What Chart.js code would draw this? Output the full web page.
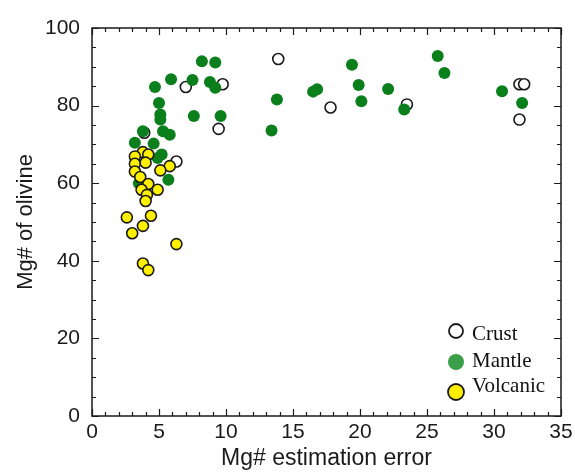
<!DOCTYPE html>
<html>
<head>
<meta charset="utf-8">
<title>Mg# of olivine vs estimation error</title>
<script src="https://cdn.jsdelivr.net/npm/chart.js@4.4.1/dist/chart.umd.min.js"></script>
<style>
    html, body { margin: 0; padding: 0; background: #fff; }
    #wrap { width: 575px; height: 472px; }
</style>
</head>
<body>
<div id="wrap"><canvas id="chart" width="575" height="472"></canvas></div>
<script>
// Crust samples (open circles)
const crustX = [13.9, 7.0, 9.75, 9.45, 6.3, 3.9, 17.8, 23.5, 31.9, 32.25, 31.9];
const crustY = [92.0, 84.8, 85.5, 74.0, 65.6, 73.0, 79.5, 80.3, 85.5, 85.5, 76.4];

// Mantle samples (green)
const mantleX = [8.2, 9.2, 5.9, 4.7, 7.5, 8.8, 9.2, 5.0, 5.1, 5.1, 7.6, 9.6, 5.3, 5.8,
    3.8, 3.2, 4.6, 5.2, 4.9, 5.7, 3.5,
    13.8, 13.4, 16.5, 16.8, 19.4, 19.9, 20.1, 22.1, 23.3, 25.8, 26.3, 30.6, 32.1];
const mantleY = [91.4, 91.1, 86.8, 84.8, 86.6, 86.1, 84.6, 80.7, 77.7, 76.4, 77.3, 77.3, 73.4, 72.5,
    73.4, 70.4, 70.2, 67.4, 66.5, 60.9, 60.0,
    81.6, 73.6, 83.6, 84.2, 90.5, 85.3, 81.1, 84.3, 79.0, 92.8, 88.4, 83.7, 80.7];

// Volcanic samples (yellow)
const volcanicX = [3.8, 3.2, 4.2, 3.2, 4.0, 5.8, 5.1, 3.2, 3.6, 4.2, 3.7, 4.9, 4.1, 4.0,
    2.6, 4.4, 3.8, 3.0, 6.3, 3.8, 4.2];
const volcanicY = [68.0, 66.9, 67.4, 65.0, 65.3, 64.4, 63.3, 63.0, 61.6, 59.8, 58.3, 58.3, 57.0, 55.4,
    51.2, 51.6, 49.0, 47.1, 44.3, 39.3, 37.6];

// Axis settings
const xMin = 0, xMax = 35, xStep = 5, xMinorStep = 1;
const yMin = 0, yMax = 100, yStep = 20, yMinorStep = 5;

// Legend entries
const legendLabels = ['Crust', 'Mantle', 'Volcanic'];

const GREEN = '#0a7f1c';
const YELLOW = '#fff000';
const INK = '#1a1a1a';

function toPoints(xs, ys) {
    return xs.map((x, i) => ({ x: x, y: ys[i] }));
}

// Box frame with inward ticks on all four sides
const framePlugin = {
    id: 'frame',
    afterDraw(chart) {
        const { ctx, chartArea: a, scales } = chart;
        const xs = scales.x, ys = scales.y;
        ctx.save();
        ctx.strokeStyle = INK;
        ctx.lineWidth = 1.5;
        ctx.strokeRect(a.left, a.top, a.right - a.left, a.bottom - a.top);
        ctx.lineWidth = 1.2;
        ctx.beginPath();
        for (let v = xMin; v <= xMax; v += xMinorStep) {
            const px = Math.round(xs.getPixelForValue(v)) + 0.5;
            const len = v % xStep === 0 ? 7 : 4;
            ctx.moveTo(px, a.bottom); ctx.lineTo(px, a.bottom - len);
            ctx.moveTo(px, a.top); ctx.lineTo(px, a.top + len);
        }
        for (let v = yMin; v <= yMax; v += yMinorStep) {
            const py = Math.round(ys.getPixelForValue(v)) + 0.5;
            const len = v % yStep === 0 ? 7 : 4;
            ctx.moveTo(a.left, py); ctx.lineTo(a.left + len, py);
            ctx.moveTo(a.right, py); ctx.lineTo(a.right - len, py);
        }
        ctx.stroke();
        ctx.restore();
    }
};

// Legend drawn inside the plot, bottom right
const legendPlugin = {
    id: 'innerLegend',
    afterDraw(chart) {
        const ctx = chart.ctx;
        const fills = ['#ffffff', '#3a9f48', YELLOW];
        const borders = [INK, null, INK];
        const radius = [7, 8, 8];
        const cx = 456;
        const cy = [331, 362, 392];
        const baseline = [340, 367, 392];
        ctx.save();
        legendLabels.forEach((label, i) => {
            ctx.beginPath();
            ctx.arc(cx, cy[i], radius[i], 0, Math.PI * 2);
            ctx.fillStyle = fills[i];
            ctx.fill();
            if (borders[i]) {
                ctx.lineWidth = 1.8;
                ctx.strokeStyle = borders[i];
                ctx.stroke();
            }
            ctx.fillStyle = '#111';
            ctx.font = '21px "Liberation Serif", "Times New Roman", serif';
            ctx.textAlign = 'left';
            ctx.textBaseline = 'alphabetic';
            ctx.fillText(label, 472, baseline[i]);
        });
        ctx.restore();
    }
};

const tickFont = { family: '"Liberation Sans", Helvetica, Arial, sans-serif', size: 21 };
const titleFont = { family: '"Liberation Sans", Helvetica, Arial, sans-serif', size: 22 };

new Chart(document.getElementById('chart'), {
    type: 'scatter',
    data: {
        datasets: [{
            label: legendLabels[0],
            data: toPoints(crustX, crustY),
            backgroundColor: '#ffffff',
            borderColor: INK,
            borderWidth: 1.6,
            pointRadius: 5.5,
            order: 3
        }, {
            label: legendLabels[1],
            data: toPoints(mantleX, mantleY),
            backgroundColor: GREEN,
            borderColor: GREEN,
            borderWidth: 0,
            pointRadius: 6,
            order: 2
        }, {
            label: legendLabels[2],
            data: toPoints(volcanicX, volcanicY),
            backgroundColor: YELLOW,
            borderColor: INK,
            borderWidth: 1.6,
            pointRadius: 5.5,
            order: 1
        }]
    },
    options: {
        responsive: false,
        animation: false,
        layout: { padding: { top: 28, right: 14, left: 0, bottom: 0 } },
        plugins: {
            legend: { display: false },
            tooltip: { enabled: false }
        },
        scales: {
            x: {
                type: 'linear',
                min: xMin,
                max: xMax,
                grid: { display: false },
                border: { display: false },
                ticks: { stepSize: xStep, font: tickFont, color: INK, padding: -4, maxRotation: 0, autoSkip: false },
                title: { display: true, text: 'Mg# estimation error', font: { family: titleFont.family, size: 23 }, color: INK, padding: { top: 0, bottom: 0 } },
                afterFit(scale) { scale.height = 56; }
            },
            y: {
                type: 'linear',
                min: yMin,
                max: yMax,
                grid: { display: false },
                border: { display: false },
                ticks: { stepSize: yStep, font: tickFont, color: INK, padding: 4 },
                title: { display: true, text: 'Mg# of olivine', font: titleFont, color: INK, padding: { top: 13, bottom: 0 } },
                afterFit(scale) { scale.width = 92; }
            }
        }
    },
    plugins: [framePlugin, legendPlugin]
});
</script>
</body>
</html>
